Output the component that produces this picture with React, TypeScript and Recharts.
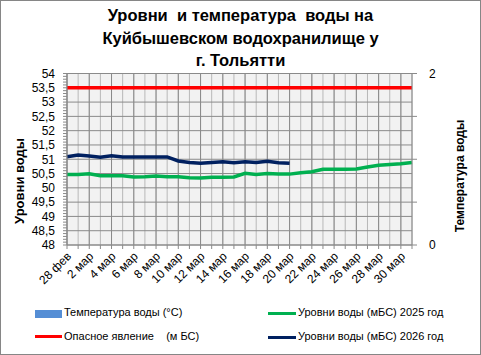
import React from 'react';
import { LineChart, Line, XAxis, YAxis, CartesianGrid, ReferenceLine } from 'recharts';

const dates = [
  '28 фев', '1 мар', '2 мар', '3 мар', '4 мар', '5 мар', '6 мар', '7 мар',
  '8 мар', '9 мар', '10 мар', '11 мар', '12 мар', '13 мар', '14 мар', '15 мар',
  '16 мар', '17 мар', '18 мар', '19 мар', '20 мар', '21 мар', '22 мар', '23 мар',
  '24 мар', '25 мар', '26 мар', '27 мар', '28 мар', '29 мар', '30 мар', '31 мар',
];

// уровни воды, м БС
const levels2025 = [
  50.47, 50.47, 50.49, 50.42, 50.42, 50.42, 50.38, 50.39, 50.41, 50.39, 50.39,
  50.35, 50.34, 50.37, 50.37, 50.38, 50.51, 50.47, 50.5, 50.48, 50.48, 50.53,
  50.56, 50.65, 50.65, 50.65, 50.66, 50.73, 50.79, 50.82, 50.84, 50.89,
];
const levels2026 = [
  51.09, 51.15, 51.11, 51.07, 51.12, 51.08, 51.08, 51.08, 51.08, 51.08, 50.94,
  50.89, 50.86, 50.89, 50.91, 50.88, 50.91, 50.89, 50.93, 50.88, 50.86,
];
const temperature: number[] = [];
const dangerLevel = 53.5;

const levelTicks = [48, 48.5, 49, 49.5, 50, 50.5, 51, 51.5, 52, 52.5, 53, 53.5, 54];
const tempTicks = [0, 0.5, 1, 1.5, 2];
const tempLabels = [0, 2];

const data = dates.map((date, i) => ({
  date,
  y2025: levels2025[i],
  y2026: levels2026[i],
  temp: temperature[i],
}));

// малые деления по 0,1 между основными
const minorTicks: number[] = [];
levelTicks.forEach((t, i) => {
  minorTicks.push(t);
  if (i < levelTicks.length - 1) {
    for (let k = 1; k < 5; k++) minorTicks.push(Math.round((t + k * 0.1) * 10) / 10);
  }
});

const FONT = '"Liberation Sans", Arial, sans-serif';
const GRID_DARK = '#8a8a8a';
const GRID_LIGHT = '#b8b8b8';

const fmtLevel = (v: number) => {
  const r = Math.round(v * 10) / 10;
  return levelTicks.includes(r) ? String(r).replace('.', ',') : '';
};

const XTick = ({ x, y, payload, index }: { x: number; y: number; payload: { value: string }; index: number }) => {
  if (index % 2 === 1) return <g />;
  const tx = x + 5;
  const ty = y + 6;
  return (
    <text
      x={tx}
      y={ty}
      transform={`rotate(-45 ${tx} ${ty})`}
      textAnchor="end"
      fontSize={12}
      fontFamily={FONT}
      fill="#000"
    >
      {payload.value}
    </text>
  );
};

const legendRow: React.CSSProperties = {
  position: 'absolute',
  fontSize: 11,
  fontFamily: FONT,
  color: '#000',
  whiteSpace: 'pre',
};

export default function App() {
  return (
    <div style={{ position: 'absolute', left: 0, top: 0, width: 481, height: 355, background: '#fff' }}>
      <div
        style={{
          position: 'absolute', left: 0, top: 4, width: 481, textAlign: 'center', whiteSpace: 'pre',
          fontFamily: FONT, fontWeight: 700, fontSize: 16.5, lineHeight: '22.5px', color: '#000',
        }}
      >
        {'Уровни  и температура  воды на\nКуйбышевском водохранилище у\nг. Тольятти'}
      </div>

      <LineChart
        width={481}
        height={355}
        data={data}
        margin={{ top: 73.5, right: 0, bottom: 50, left: 0 }}
        style={{ position: 'absolute', left: 0, top: 0 }}
      >
        <CartesianGrid fill="#f2f2f2" horizontal={false} stroke={GRID_LIGHT} />
        {levelTicks.map((v) => (
          <ReferenceLine key={`h${v}`} y={v} yAxisId="left" stroke={GRID_DARK} />
        ))}
        {dates.filter((_, i) => i % 2 === 0).map((d) => (
          <ReferenceLine key={`v${d}`} x={d} yAxisId="left" stroke={GRID_DARK} />
        ))}
        <XAxis
          dataKey="date"
          interval={0}
          height={60}
          tick={XTick}
          tickSize={4}
          stroke={GRID_DARK}
        />
        <YAxis
          yAxisId="left"
          width={67}
          domain={[48, 54]}
          ticks={minorTicks}
          interval={0}
          tickFormatter={fmtLevel}
          tickSize={4}
          tickMargin={8}
          stroke={GRID_DARK}
          tick={{ fontSize: 12, fontFamily: FONT, fill: '#000' }}
        />
        <YAxis
          yAxisId="right"
          orientation="right"
          width={69}
          type="number"
          domain={[0, 2]}
          allowDataOverflow
          ticks={tempTicks}
          interval={0}
          tickFormatter={(v: number) => (tempLabels.includes(v) ? String(v) : '')}
          tickSize={5}
          tickMargin={12}
          stroke={GRID_DARK}
          tick={{ fontSize: 12, fontFamily: FONT, fill: '#000' }}
        />
        <ReferenceLine y={dangerLevel} yAxisId="left" stroke="#ff0000" strokeWidth={3.5} />
        <Line yAxisId="right" dataKey="temp" stroke="#558ed5" dot={false} isAnimationActive={false} />
        <Line
          yAxisId="left"
          dataKey="y2025"
          stroke="#00b050"
          strokeWidth={3.5}
          dot={false}
          isAnimationActive={false}
        />
        <Line
          yAxisId="left"
          dataKey="y2026"
          stroke="#002060"
          strokeWidth={3.5}
          dot={false}
          isAnimationActive={false}
        />
      </LineChart>

      <div
        style={{
          position: 'absolute', left: 19, top: 181, transform: 'translate(-50%, -50%) rotate(-90deg)',
          fontFamily: FONT, fontWeight: 700, fontSize: 13, whiteSpace: 'nowrap',
        }}
      >
        Уровни воды
      </div>
      <div
        style={{
          position: 'absolute', left: 460, top: 176, transform: 'translate(-50%, -50%) rotate(-90deg)',
          fontFamily: FONT, fontWeight: 700, fontSize: 12, whiteSpace: 'nowrap',
        }}
      >
        Температура воды
      </div>

      {/* легенда */}
      <div style={{ position: 'absolute', left: 35, top: 310, width: 27, height: 8, background: '#558ed5' }} />
      <div style={{ ...legendRow, left: 64, top: 306 }}>Температура воды (°C)</div>
      <div style={{ position: 'absolute', left: 35, top: 335, width: 27, height: 3, background: '#ff0000' }} />
      <div style={{ ...legendRow, left: 64, top: 330 }}>Опасное явление    (м БС)</div>
      <div style={{ position: 'absolute', left: 268, top: 312, width: 28, height: 3, background: '#00b050' }} />
      <div style={{ ...legendRow, left: 298, top: 306 }}>Уровни воды (мБС) 2025 год</div>
      <div style={{ position: 'absolute', left: 268, top: 336, width: 28, height: 3, background: '#002060' }} />
      <div style={{ ...legendRow, left: 298, top: 330 }}>Уровни воды (мБС) 2026 год</div>

      <div
        style={{
          position: 'absolute', left: 0, top: 0, width: 481, height: 355, boxSizing: 'border-box',
          border: '1px solid #868686', pointerEvents: 'none',
        }}
      />
    </div>
  );
}
